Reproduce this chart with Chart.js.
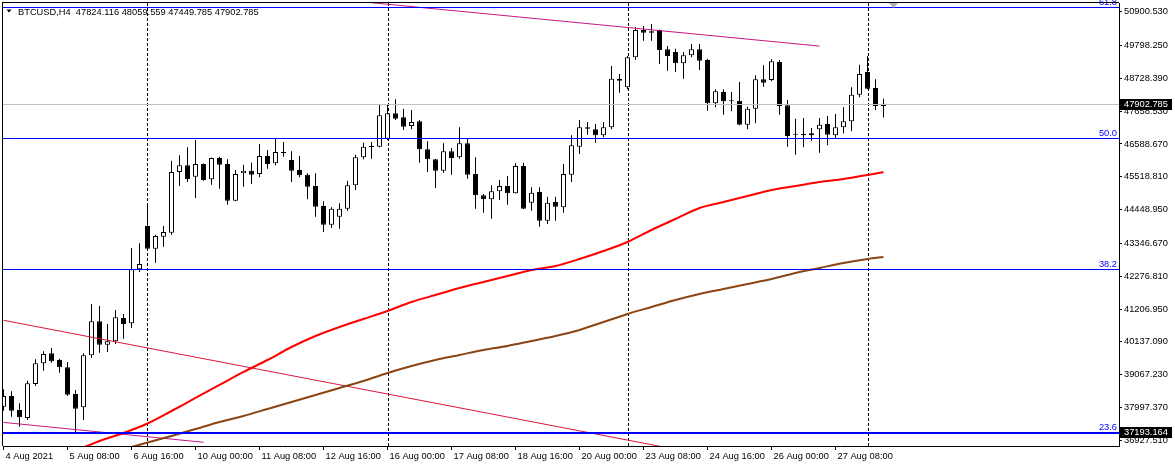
<!DOCTYPE html>
<html>
<head>
<meta charset="utf-8">
<script src="https://cdn.jsdelivr.net/npm/chart.js@4"></script>
<style>
  html, body { margin: 0; padding: 0; background: #fff; }
  #wrap { width: 1175px; height: 464px; position: relative; }
</style>
</head>
<body>
<div id="wrap"><canvas id="chart"></canvas></div>
<script>
// BTCUSD H4 candles, 4 Aug 2021 00:00 .. 30 Aug 2021 08:00 (index 0..110)
const opens = [38024,38372,37916,37655,38764,39438,39764,39546,39308,38438,
  38004,39699,40808,40045,40156,40915,40742,42503,43914,43174,
  43566,43696,45675,45893,45522,45936,45437,46131,45936,44739,
  45632,45717,45610,46196,45958,46327,46066,45740,45587,45218,
  44566,43957,44218,44478,45241,46154,46500,46500,46760,47588,
  47458,47174,47328,46415,46089,45717,46350,46154,46610,45610,
  44915,44785,45046,45218,44980,45870,44674,45023,44087,44697,
  44524,45587,46500,47132,47067,46871,47132,48716,48436,49414,
  50304,50262,50304,49675,49587,49218,49479,49675,49326,47914,
  48283,47999,47999,47217,47738,48697,48674,49261,47849,46914,
  46914,46871,47067,47240,46871,47132,47328,48195,48935,48413,
  47824.116];
const highs = [38591,38526,38134,38871,39569,39830,39937,39588,39481,38568,
  39764,41372,41306,40720,41176,41046,43197,43350,44589,43631,
  43914,46043,46219,46480,46718,45950,46145,46174,46089,45740,
  45913,45978,46588,46392,46760,46653,46350,46196,45632,45632,
  44720,44524,44654,45391,46239,46630,46653,47869,47892,48045,
  47738,47696,47370,46676,46100,46610,46457,47132,46760,46154,
  44958,45241,45414,45544,45958,45978,45176,45176,44870,44870,
  45936,46871,47370,47305,47240,47305,49130,48870,49456,50392,
  50434,50500,50320,49782,49694,49587,49848,49848,49368,48371,
  48371,48283,48609,47804,48827,49153,49349,49326,48022,47412,
  47435,47109,47435,47500,47566,47784,48436,49173,49456,48697,
  48059.559];
const lows = [37893,37698,37372,37590,38698,39197,39458,39132,38372,37199,
  37590,39611,39784,39807,40068,40240,40589,42415,43132,42718,
  43240,43631,45218,45349,44827,45391,45261,45130,44609,44720,
  45196,45284,45502,45782,45893,46174,45349,45502,44785,44218,
  43719,43849,43826,44413,45088,46089,46108,46480,46718,47370,
  47044,47067,45978,45675,45153,45652,45587,46108,45456,44478,
  44348,44152,44762,44609,44970,44465,44413,43892,43980,44087,
  44348,45349,46262,46891,46630,46806,47067,48260,48371,49326,
  49955,49955,49196,48977,48935,48716,49414,49000,47673,47784,
  47543,47654,47200,47067,47262,48456,48632,47543,46500,46239,
  46480,46695,46304,46545,46783,46936,47002,48110,48371,47696,
  47449.785];
const closes = [38372,37893,37678,38786,39438,39742,39504,39308,38415,37958,
  39699,40808,40045,40156,40938,40720,42503,42676,43174,43588,
  43719,45675,45893,45437,45936,45414,46131,45913,44739,45610,
  45717,45587,46196,45936,46327,46284,45717,45567,45196,44544,
  43957,44478,44478,45241,46154,46500,46490,47523,47588,47412,
  47152,47305,46415,46089,45717,46350,46131,46610,45587,44915,
  44785,45046,45218,44980,45870,44478,45000,44087,44674,44544,
  45610,46545,47132,47086,46871,47132,48716,48651,49414,50304,
  50216,50216,49652,49456,49218,49479,49675,49303,47914,48306,
  47980,47980,47217,47738,48697,48586,49284,47826,46848,46891,
  46871,46936,47217,46891,47132,47328,48195,48870,48390,47826,
  47902.785];

// moving averages, read at some candles
const redMaIdx = [10,12,15,18,21,24,27,30,33,36,39,42,45,48,51,54,57,60,63,66,69,72,75,78,81,84,87,90,93,96,99,102,105,108,110];
const redMa = [36693,36905,37166,37475,37883,38307,38731,39155,39546,39970,40328,40622,
  40882,41143,41437,41665,41893,42089,42284,42480,42610,42838,
  43099,43393,43784,44143,44501,44697,44892,45088,45218,45349,
  45447,45577,45675];
const brownMaIdx = [16,18,21,24,27,30,33,36,39,42,45,48,51,54,57,60,63,66,69,72,75,78,81,84,87,90,93,96,99,102,105,108,110];
const brownMa = [36710,36857,37068,37296,37525,37720,37948,38177,38405,38633,38861,39122,
  39350,39546,39709,39872,40002,40165,40328,40524,40785,41046,
  41274,41502,41698,41861,42024,42187,42382,42545,42708,42839,42904];

// trend lines (candle index, price)
const topLineIdx = [46, 102];
const topLinePrice = [51194, 49779];
const longLineIdx = [0, 84];
const longLinePrice = [40840, 36635];
const lowLineIdx = [0, 25];
const lowLinePrice = [37511, 36863];

// fibonacci levels
const fibLevels = ["23.6", "38.2", "50.0", "61.8"];
const fibPrices = [37193.164, 42496.7, 46783, 51069.5];

const bidPrice = 47902.785;
const separatorIdx = [18, 48, 78, 108];

const tickIdx = [0, 8, 16, 24, 32, 40, 48, 56, 64, 72, 80, 88, 96, 104];
const tickLabels = ["4 Aug 2021", "5 Aug 08:00", "6 Aug 16:00", "10 Aug 00:00", "11 Aug 08:00",
  "12 Aug 16:00", "16 Aug 00:00", "17 Aug 08:00", "18 Aug 16:00", "20 Aug 00:00",
  "23 Aug 08:00", "24 Aug 16:00", "26 Aug 00:00", "27 Aug 08:00"];
const yTicks = [36927.51, 37997.37, 39067.23, 40137.09, 41206.95, 42276.81, 43346.67,
  44448.95, 45518.81, 46588.67, 47658.53, 48728.39, 49798.25, 50900.53];
const yMin = 36742, yMax = 51184;

const FONT = "Liberation Sans";
const FS = 9.3;

function pts(idx, vals) {
  return idx.map((x, k) => ({x: x, y: vals[k]}));
}

const overlay = {
  id: "overlay",
  beforeDatasetsDraw(chart) {
    const ctx = chart.ctx, a = chart.chartArea, xs = chart.scales.x;
    ctx.save();
    ctx.strokeStyle = "#000";
    ctx.lineWidth = 1;
    ctx.setLineDash([3, 2]);
    separatorIdx.forEach(i => {
      const x = Math.round(xs.getPixelForValue(i)) + 0.5;
      ctx.beginPath();
      ctx.moveTo(x, a.top);
      ctx.lineTo(x, a.bottom);
      ctx.stroke();
    });
    ctx.restore();
  },
  afterDatasetsDraw(chart) {
    const ctx = chart.ctx, a = chart.chartArea, ys = chart.scales.y;
    const w = a.right - a.left;
    ctx.save();
    ctx.beginPath();
    ctx.rect(a.left, a.top, w, a.bottom - a.top);
    ctx.clip();
    // bid line
    ctx.fillStyle = "#c0c0c0";
    ctx.fillRect(a.left, Math.round(ys.getPixelForValue(bidPrice)), w, 1);
    // fib levels
    ctx.fillStyle = "#0000ff";
    fibPrices.forEach((p, k) => {
      const yy = Math.round(ys.getPixelForValue(p));
      ctx.fillRect(a.left, yy, w, k === 0 ? 2 : 1);
    });
    ctx.restore();
    ctx.save();
    ctx.fillStyle = "#0000ff";
    ctx.font = FS + "px '" + FONT + "'";
    ctx.textAlign = "right";
    ctx.textBaseline = "alphabetic";
    fibPrices.forEach((p, k) => {
      const yy = Math.round(ys.getPixelForValue(p));
      ctx.fillText(fibLevels[k], a.right - 2, yy - 2);
    });
    ctx.restore();
  },
  afterDraw(chart) {
    const ctx = chart.ctx, a = chart.chartArea, ys = chart.scales.y;
    ctx.save();
    // frame top + left
    ctx.fillStyle = "#000";
    ctx.fillRect(a.left - 1, a.top - 1, 1, a.bottom - a.top + 1);
    ctx.fillRect(a.left - 1, a.top - 1, a.right - a.left + 1, 1);
    // header
    ctx.beginPath();
    ctx.moveTo(6.5, 9.5); ctx.lineTo(11.5, 9.5); ctx.lineTo(9, 12.5); ctx.closePath();
    ctx.fill();
    ctx.font = FS + "px '" + FONT + "'";
    ctx.textBaseline = "alphabetic";
    ctx.textAlign = "left";
    ctx.fillText("BTCUSD,H4  " + opens[110].toFixed(3) + " " + highs[110].toFixed(3) + " " +
      lows[110].toFixed(3) + " " + closes[110].toFixed(3), 18, 15);
    // chart shift marker
    ctx.fillStyle = "#b0b0b0";
    ctx.beginPath();
    ctx.moveTo(889, 3); ctx.lineTo(898, 3); ctx.lineTo(893.5, 8); ctx.closePath();
    ctx.fill();
    // price boxes on axis
    [bidPrice, fibPrices[0]].forEach(p => {
      const yy = Math.round(ys.getPixelForValue(p));
      ctx.fillStyle = "#000";
      ctx.fillRect(a.right + 1, yy - 5, 52, 11);
      ctx.fillStyle = "#fff";
      ctx.textBaseline = "middle";
      ctx.fillText(p.toFixed(3), a.right + 5, yy + 0.5);
    });
    ctx.restore();
  }
};

const bodies = opens.map((o, i) => ({x: i, y: [o, closes[i]]}));
const wicks = lows.map((l, i) => ({x: i, y: [l, highs[i]]}));

new Chart(document.getElementById("chart"), {
  type: "bar",
  data: {
    datasets: [
      {
        label: "body",
        data: bodies,
        stack: "c",
        order: 1,
        barThickness: 5,
        minBarLength: 1,
        inflateAmount: 0,
        borderSkipped: false,
        borderWidth: 1,
        borderColor: "#000",
        backgroundColor: ctx => closes[ctx.dataIndex] >= opens[ctx.dataIndex] ? "#ffffff" : "#000000"
      },
      {
        label: "wick",
        data: wicks,
        stack: "c",
        order: 2,
        barThickness: 1,
        inflateAmount: 0,
        borderWidth: 0,
        backgroundColor: "#000"
      },
      {
        type: "line", label: "MA red", data: pts(redMaIdx, redMa), order: 0,
        borderColor: "#ff0000", borderWidth: 2, pointRadius: 0, fill: false, tension: 0.3
      },
      {
        type: "line", label: "MA brown", data: pts(brownMaIdx, brownMa), order: 0,
        borderColor: "#8b4513", borderWidth: 2, pointRadius: 0, fill: false, tension: 0.3
      },
      {
        type: "line", label: "trend top", data: pts(topLineIdx, topLinePrice), order: 0,
        borderColor: "#c71585", borderWidth: 1, pointRadius: 0, fill: false
      },
      {
        type: "line", label: "trend long", data: pts(longLineIdx, longLinePrice), order: 0,
        borderColor: "#dc143c", borderWidth: 1, pointRadius: 0, fill: false
      },
      {
        type: "line", label: "trend low", data: pts(lowLineIdx, lowLinePrice), order: 0,
        borderColor: "#c71585", borderWidth: 1, pointRadius: 0, fill: false
      }
    ]
  },
  options: {
    responsive: true,
    maintainAspectRatio: false,
    animation: false,
    events: [],
    layout: { padding: { left: 3, top: 3, right: 0, bottom: 0 } },
    plugins: { legend: { display: false }, tooltip: { enabled: false } },
    scales: {
      x: {
        type: "linear",
        min: -0.0625,
        max: 139.4375,
        offset: false,
        grid: { drawOnChartArea: false, drawTicks: true, tickLength: 4, tickColor: "#000", offset: false },
        border: { display: true, color: "#000", width: 1 },
        afterBuildTicks: s => { s.ticks = tickIdx.map(v => ({value: v})); },
        afterFit: s => { s.height = 18; s.paddingLeft = 0; s.paddingRight = 0; },
        ticks: {
          autoSkip: false, maxRotation: 0, minRotation: 0, align: "start",
          padding: 1, labelOffset: 2, color: "#000",
          font: { family: FONT, size: FS },
          callback: v => { const k = tickIdx.indexOf(v); return k >= 0 ? tickLabels[k] : ""; }
        }
      },
      y: {
        position: "right",
        min: yMin,
        max: yMax,
        stacked: false,
        grid: { drawOnChartArea: false, drawTicks: true, tickLength: 3, tickColor: "#000" },
        border: { display: true, color: "#000", width: 1 },
        afterBuildTicks: s => { s.ticks = yTicks.map(v => ({value: v})); },
        afterFit: s => { s.width = 56; s.paddingTop = 0; s.paddingBottom = 0; },
        ticks: {
          padding: 2, color: "#000",
          font: { family: FONT, size: FS },
          callback: v => Number(v).toFixed(3)
        }
      }
    }
  },
  plugins: [overlay]
});
</script>
</body>
</html>
